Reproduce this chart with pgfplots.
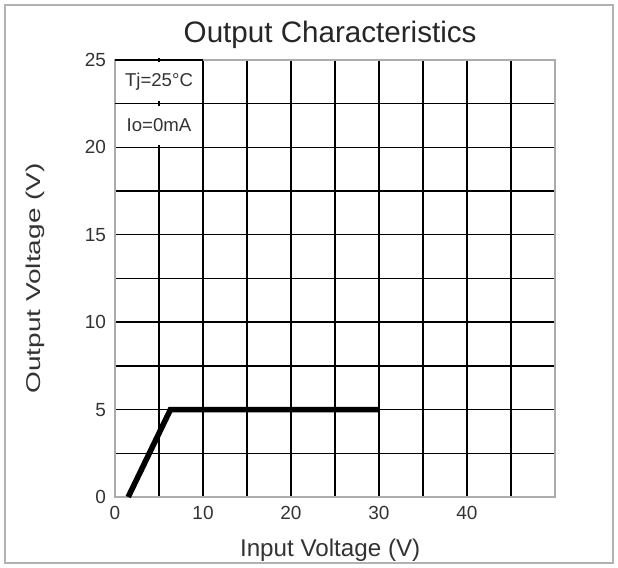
\documentclass[border=0pt]{standalone}
\usepackage{fontspec}
\setmainfont{Liberation Sans}
\usepackage{pgfplots}
\pgfplotsset{compat=1.18}
\definecolor{txt}{HTML}{333333}
\begin{document}
\begin{tikzpicture}
\begin{axis}[scale only axis,width=220pt,height=218.5pt,
  xmin=0,xmax=50,ymin=0,ymax=25,clip=false,
  xtick={0,10,20,30,40},minor xtick={5,15,25,35,45},
  ytick={0,5,10,15,20,25},minor ytick={2.5,7.5,12.5,17.5,22.5},
  grid=both,major grid style={black,line width=0.7pt},minor grid style={black,line width=0.7pt},
  major tick length=0pt,minor tick length=0pt,
  axis line style={gray!65,line width=1pt},
  /pgf/number format/assume math mode=true,
  tick label style={font=\fontsize{9.5}{10}\selectfont,text=txt},
  xticklabel style={yshift=-1pt},yticklabel style={xshift=-1pt}]
\addplot[black,line width=2.8pt,line join=miter] coordinates {(1.5,0) (6.3,5) (30,5)};
% label cells
\fill[white] (axis cs:0.1,20.1) rectangle (axis cs:9.9,24.9);
\draw[black,line width=0.7pt] (axis cs:0,22.5) -- (axis cs:10,22.5);
\draw[black,line width=0.7pt] (axis cs:0,25) -- (axis cs:10,25);
\draw[black,line width=0.7pt] (axis cs:5,20) ++(0,-1.2pt) -- ++(0,2.4pt);
\draw[black,line width=0.7pt] (axis cs:5,22.5) ++(0,-1.2pt) -- ++(0,2.4pt);
\draw[black,line width=0.7pt] (axis cs:5,25) ++(0,-1.2pt) -- ++(0,2.4pt);
\node[font=\fontsize{9.3}{10}\selectfont,text=txt] at (axis cs:5,23.75) {Tj=25°C};
\node[font=\fontsize{9.3}{10}\selectfont,text=txt] at (axis cs:5,21.25) {Io=0mA};
% titles and frame
\node[font=\fontsize{14.8}{16}\selectfont,text=black!85] at (rel axis cs:0.489,1.057) {Output Characteristics};
\node[font=\fontsize{10}{12}\selectfont,text=txt,rotate=90] at (rel axis cs:-0.182,0.5) {\scalebox{1.4}[1]{Output Voltage (V)}};
\node[font=\fontsize{12.1}{13}\selectfont,text=txt] at (rel axis cs:0.489,-0.121) {Input Voltage (V)};
\draw[gray!60,line width=0.8pt] (rel axis cs:-0.25,-0.151) rectangle (rel axis cs:1.132,1.126);
\path (rel axis cs:-0.2614,-0.1625) rectangle (rel axis cs:1.1432,1.1373);
\end{axis}
\end{tikzpicture}
\end{document}
